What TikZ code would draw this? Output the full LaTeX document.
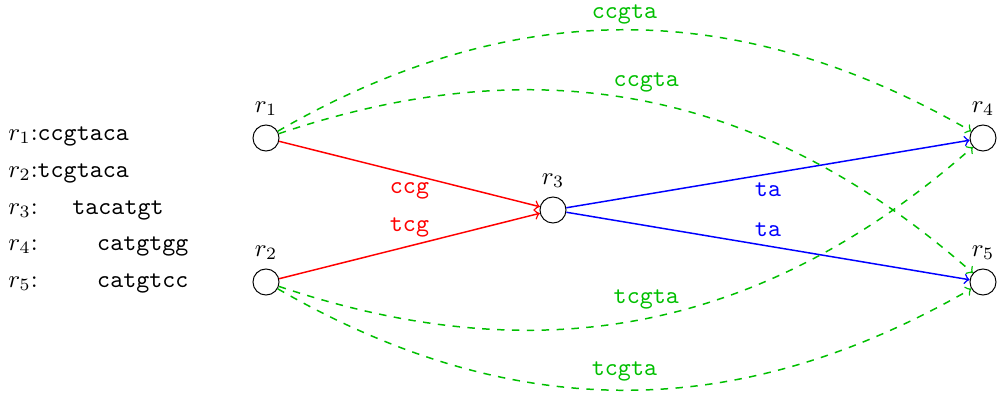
\documentclass[tikz,border=0pt]{standalone}
\begin{document}
\begin{tikzpicture}[x=0.4032pt,y=-0.4032pt,
  readnode/.style={circle,draw,thin,minimum size=10.5pt,inner sep=0pt},
  seqline/.style={anchor=base west,inner sep=0pt},
  lbl/.style={font=\ttfamily},
  redge/.style={->,semithick,red},
  bedge/.style={->,semithick,blue},
  gedge/.style={->,semithick,dashed,green!75!black}]
\useasboundingbox (0,0) rectangle (998,394);

% read sequences
\node[seqline] (s1) at (8,140) {$r_1$:\texttt{ccgtaca}};
\node[seqline] (s2) at (8,177) {$r_2$:\texttt{tcgtaca}};
\node[seqline] (s3) at (8,214) {$r_3$:\hspace{14pt}\texttt{tacatgt}};
\node[seqline] (s4) at (8,250) {$r_4$:\hspace{24pt}\texttt{catgtgg}};
\node[seqline] (s5) at (8,287) {$r_5$:\hspace{24pt}\texttt{catgtcc}};

% overlap graph
\node[readnode,label=above:$r_1$] (r1) at (266,138) {};
\node[readnode,label=above:$r_2$] (r2) at (266,282) {};
\node[readnode,label=above:$r_3$] (r3) at (553,210) {};
\node[readnode,label=above:$r_4$] (r4) at (983,138) {};
\node[readnode,label=above:$r_5$] (r5) at (983,282) {};

\draw[redge] (r1) -- node[lbl,midway,below,red] {ccg} (r3);
\draw[redge] (r2) -- node[lbl,midway,above,red] {tcg} (r3);
\draw[bedge] (r3) -- node[lbl,midway,below,blue] {ta} (r4);
\draw[bedge] (r3) -- node[lbl,midway,above,blue] {ta} (r5);

\draw[gedge] (r1) to[bend left=30] node[lbl,midway,above,inner sep=2pt,green!75!black] {ccgta} (r4);
\draw[gedge] (r1) to[bend left=30] node[lbl,midway,above,green!75!black] {ccgta} (r5);
\draw[gedge] (r2) to[bend right=30] node[lbl,midway,above,green!75!black] {tcgta} (r4);
\draw[gedge] (r2) to[bend right=30] node[lbl,midway,above,green!75!black] {tcgta} (r5);
\end{tikzpicture}
\end{document}
